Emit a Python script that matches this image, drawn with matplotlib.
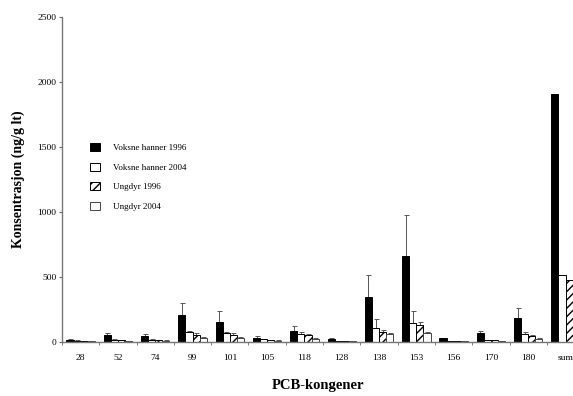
import numpy as np
import matplotlib
matplotlib.use("Agg")
import matplotlib.pyplot as plt

categories = ["28", "52", "74", "99", "101", "105", "118", "128", "138", "153", "156", "170", "180", "sum"]
series_names = ["Voksne hanner 1996", "Voksne hanner 2004", "Ungdyr 1996", "Ungdyr 2004"]

voksne_1996 = [18, 52, 47, 206, 157, 33, 87, 25, 349, 661, 28, 67, 182, 1905]
voksne_1996_err = [5, 20, 15, 91, 81, 10, 36, 5, 166, 316, 5, 20, 77, 0]
voksne_2004 = [10, 15, 15, 75, 70, 20, 65, 6, 107, 143, 8, 15, 65, 515]
voksne_2004_err = [3, 5, 5, 10, 10, 5, 10, 2, 67, 97, 2, 4, 10, 0]
ungdyr_1996 = [8, 12, 15, 55, 55, 15, 50, 5, 80, 130, 6, 12, 45, 477]
ungdyr_1996_err = [2, 4, 4, 15, 12, 4, 10, 2, 15, 20, 2, 3, 8, 0]
ungdyr_2004 = [5, 8, 10, 30, 30, 10, 25, 4, 60, 67, 5, 8, 25, np.nan]
ungdyr_2004_err = [2, 2, 3, 8, 8, 3, 6, 1, 10, 12, 1, 2, 6, 0]

plt.rcParams['font.family'] = ['Liberation Serif', 'DejaVu Serif']
plt.rcParams['hatch.linewidth'] = 1.0

fig = plt.figure(figsize=(5.73, 3.96), dpi=100)
ax = fig.add_axes([62/573, 54/396, 1 - 62/573, (342-16.7)/396])

x = np.arange(len(categories))
w = 0.19
offsets = [-1.5*w, -0.5*w, 0.5*w, 1.5*w]
vals = [voksne_1996, voksne_2004, ungdyr_1996, ungdyr_2004]
errs = [voksne_1996_err, voksne_2004_err, ungdyr_1996_err, ungdyr_2004_err]
faces = ["black", "white", "white", "white"]
edges = ["black", "black", "black", "#444444"]
hatches = [None, None, "////", None]
handles = []
for v, e, fc, ec, h, off, name in zip(vals, errs, faces, edges, hatches, offsets, series_names):
    v = np.array(v, dtype=float)
    e = np.array(e, dtype=float)
    b = ax.bar(x + off, v, width=w, color=fc, edgecolor=ec, linewidth=0.7,
               hatch=h, label=name, zorder=2)
    mask = e > 0
    ax.errorbar((x + off)[mask], v[mask], yerr=[np.zeros(mask.sum()), e[mask]],
                fmt="none", ecolor="#555555", elinewidth=0.7, capsize=1.8,
                capthick=0.7, zorder=1)
    handles.append(b)

ax.set_ylim(0, 2500)
ax.set_xlim(-0.35, 13.2)
ax.set_yticks([0, 500, 1000, 1500, 2000, 2500])
ax.set_xticks(x)
ax.set_xticklabels(categories)
ax.set_xticks(np.arange(-0.5, 13.5, 1), minor=True)
ax.tick_params(axis="x", which="major", length=0, labelsize=6.8, pad=9)
ax.tick_params(axis="x", which="minor", length=2, direction="out", color="#666666")
ax.tick_params(axis="y", length=2, direction="out", labelsize=6.8, color="#666666", pad=2)
for s in ["top", "right"]:
    ax.spines[s].set_visible(False)
for s in ["left", "bottom"]:
    ax.spines[s].set_color("#777777")
    ax.spines[s].set_linewidth(1.0)

ax.set_ylabel("Konsentrasjon (ng/g lt)", fontsize=10, fontweight="bold", labelpad=9)
ax.set_xlabel("PCB-kongener", fontsize=10.5, fontweight="bold", labelpad=12)

ax.legend(handles=handles, labels=series_names, loc="upper left",
          bbox_to_anchor=(82/573, 1 - 135/396), bbox_transform=fig.transFigure,
          frameon=False, fontsize=6.5, handlelength=1.1, handleheight=1.0,
          handletextpad=1.4, labelspacing=1.15)

fig.savefig("out.png", dpi=100)
